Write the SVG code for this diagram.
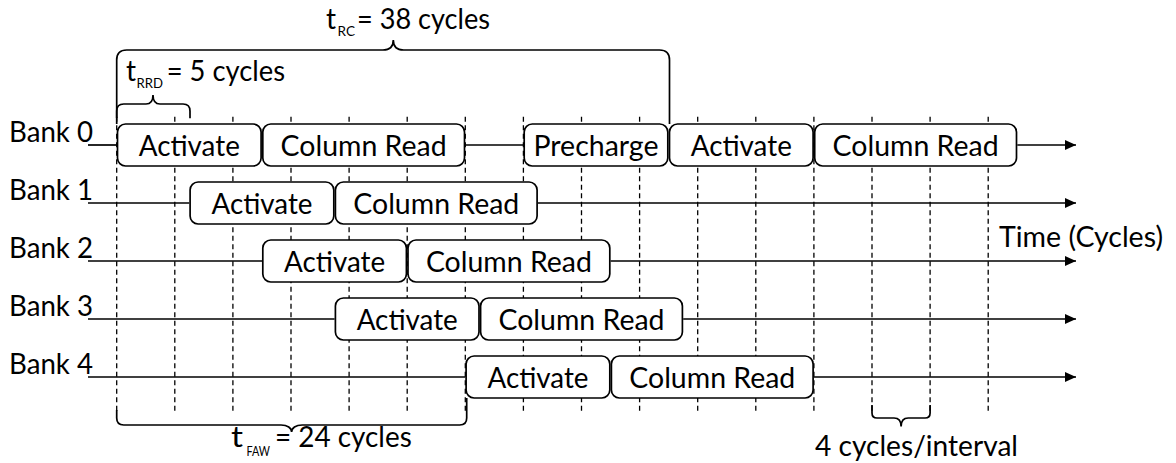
<svg xmlns="http://www.w3.org/2000/svg" width="1176" height="463" viewBox="0 0 1176 463">
  <defs>
    <style>
      .txt { font-family: Lato, "Liberation Sans", sans-serif; font-size: 28px; fill: #000; }
      .sub { font-family: Lato, "Liberation Sans", sans-serif; font-size: 13px; fill: #000; }
      .box rect { fill: #fff; stroke: #000; stroke-width: 1.7; }
      .box text { font-family: Lato, "Liberation Sans", sans-serif; font-size: 28px; fill: #000; text-anchor: middle; }
      .grid line { stroke: #000; stroke-width: 1.3; stroke-dasharray: 5 3.5; }
      .wire { stroke: #000; stroke-width: 1.7; fill: none; }
      .brace { stroke: #000; stroke-width: 1.7; fill: none; }
    </style>
    <marker id="arrow" markerUnits="userSpaceOnUse" markerWidth="12" markerHeight="11" refX="11" refY="5" orient="auto">
      <path d="M0,0 L11,5 L0,10 Z" fill="#000"/>
    </marker>
  </defs>

  <!-- cycle grid: one dashed line every 4 cycles -->
  <g class="grid" id="grid">
    <line x1="116.7" y1="116.7" x2="116.7" y2="411"/>
    <line x1="174.8" y1="116.7" x2="174.8" y2="411"/>
    <line x1="232.9" y1="116.7" x2="232.9" y2="411"/>
    <line x1="291.0" y1="116.7" x2="291.0" y2="411"/>
    <line x1="349.1" y1="116.7" x2="349.1" y2="411"/>
    <line x1="407.2" y1="116.7" x2="407.2" y2="411"/>
    <line x1="465.3" y1="116.7" x2="465.3" y2="411"/>
    <line x1="523.4" y1="116.7" x2="523.4" y2="411"/>
    <line x1="581.5" y1="116.7" x2="581.5" y2="411"/>
    <line x1="639.6" y1="116.7" x2="639.6" y2="411"/>
    <line x1="697.7" y1="116.7" x2="697.7" y2="411"/>
    <line x1="755.8" y1="116.7" x2="755.8" y2="411"/>
    <line x1="813.9" y1="116.7" x2="813.9" y2="411"/>
    <line x1="872.0" y1="116.7" x2="872.0" y2="411"/>
    <line x1="930.1" y1="116.7" x2="930.1" y2="411"/>
    <line x1="988.2" y1="116.7" x2="988.2" y2="411"/>
  </g>

  <!-- bank timelines -->
  <g id="connectors">
    <line class="wire" x1="88" y1="145" x2="116.7" y2="145"/>
    <line class="wire" x1="465.3" y1="145" x2="523.4" y2="145"/>
    <line class="wire" x1="1017.3" y1="145" x2="1076" y2="145" marker-end="url(#arrow)"/>
    <line class="wire" x1="88" y1="203" x2="189.3" y2="203"/>
    <line class="wire" x1="537.9" y1="203" x2="1076" y2="203" marker-end="url(#arrow)"/>
    <line class="wire" x1="88" y1="261" x2="262" y2="261"/>
    <line class="wire" x1="610.6" y1="261" x2="1076" y2="261" marker-end="url(#arrow)"/>
    <line class="wire" x1="88" y1="319" x2="334.6" y2="319"/>
    <line class="wire" x1="683.2" y1="319" x2="1076" y2="319" marker-end="url(#arrow)"/>
    <line class="wire" x1="88" y1="377" x2="465.3" y2="377"/>
    <line class="wire" x1="813.9" y1="377" x2="1076" y2="377" marker-end="url(#arrow)"/>
  </g>

  <!-- bank labels -->
  <g id="labels">
    <text class="txt" x="9" y="142" textLength="84" lengthAdjust="spacingAndGlyphs">Bank 0</text>
    <text class="txt" x="9" y="200" textLength="84" lengthAdjust="spacingAndGlyphs">Bank 1</text>
    <text class="txt" x="9" y="258" textLength="84" lengthAdjust="spacingAndGlyphs">Bank 2</text>
    <text class="txt" x="9" y="316" textLength="84" lengthAdjust="spacingAndGlyphs">Bank 3</text>
    <text class="txt" x="9" y="374" textLength="84" lengthAdjust="spacingAndGlyphs">Bank 4</text>
    <text class="txt" x="999" y="247" textLength="164" lengthAdjust="spacingAndGlyphs">Time (Cycles)</text>
  </g>

  <!-- Bank 0 commands -->
  <g id="bank0" class="box">
    <rect x="117.5" y="124" width="143.6" height="42" rx="8"/>
    <text x="189.3" y="155.5" textLength="101" lengthAdjust="spacingAndGlyphs">Activate</text>
    <rect x="262.8" y="124" width="201.7" height="42" rx="8"/>
    <text x="363.6" y="155.5" textLength="166" lengthAdjust="spacingAndGlyphs">Column Read</text>
    <rect x="524.2" y="124" width="143.6" height="42" rx="8"/>
    <text x="596" y="155.5" textLength="125" lengthAdjust="spacingAndGlyphs">Precharge</text>
    <rect x="669.5" y="124" width="143.6" height="42" rx="8"/>
    <text x="741.3" y="155.5" textLength="101" lengthAdjust="spacingAndGlyphs">Activate</text>
    <rect x="814.7" y="124" width="201.8" height="42" rx="8"/>
    <text x="915.6" y="155.5" textLength="166" lengthAdjust="spacingAndGlyphs">Column Read</text>
  </g>

  <!-- Bank 1 commands -->
  <g id="bank1" class="box">
    <rect x="190.1" y="182" width="143.7" height="42" rx="8"/>
    <text x="262" y="213.5" textLength="101" lengthAdjust="spacingAndGlyphs">Activate</text>
    <rect x="335.4" y="182" width="201.7" height="42" rx="8"/>
    <text x="436.3" y="213.5" textLength="166" lengthAdjust="spacingAndGlyphs">Column Read</text>
  </g>

  <!-- Bank 2 commands -->
  <g id="bank2" class="box">
    <rect x="262.8" y="240" width="143.6" height="42" rx="8"/>
    <text x="334.6" y="271.5" textLength="101" lengthAdjust="spacingAndGlyphs">Activate</text>
    <rect x="408" y="240" width="201.8" height="42" rx="8"/>
    <text x="508.9" y="271.5" textLength="166" lengthAdjust="spacingAndGlyphs">Column Read</text>
  </g>

  <!-- Bank 3 commands -->
  <g id="bank3" class="box">
    <rect x="335.4" y="298" width="143.6" height="42" rx="8"/>
    <text x="407.2" y="329.5" textLength="101" lengthAdjust="spacingAndGlyphs">Activate</text>
    <rect x="480.6" y="298" width="201.8" height="42" rx="8"/>
    <text x="581.5" y="329.5" textLength="166" lengthAdjust="spacingAndGlyphs">Column Read</text>
  </g>

  <!-- Bank 4 commands -->
  <g id="bank4" class="box">
    <rect x="466.1" y="356" width="143.7" height="42" rx="8"/>
    <text x="538" y="387.5" textLength="101" lengthAdjust="spacingAndGlyphs">Activate</text>
    <rect x="611.4" y="356" width="201.7" height="42" rx="8"/>
    <text x="712.3" y="387.5" textLength="166" lengthAdjust="spacingAndGlyphs">Column Read</text>
  </g>

  <!-- tRC bracket -->
  <g id="trc">
    <path class="brace" d="M116.7,124 V60 Q116.7,50 126.7,50 H383 C389.5,50 393.3,47 393.3,40 C393.3,47 397.1,50 403.6,50 H659.5 Q669.5,50 669.5,60 V124"/>
    <text class="txt" x="326" y="29">t</text>
    <text class="sub" x="337.5" y="35.5" textLength="17.5" lengthAdjust="spacingAndGlyphs">RC</text>
    <text class="txt" x="357" y="29" textLength="133" lengthAdjust="spacingAndGlyphs">= 38 cycles</text>
  </g>

  <!-- tRRD bracket -->
  <g id="trrd">
    <path class="brace" d="M116.7,118 V111 Q116.7,104 123.7,104 H146 C150.5,104 153,101.5 153,95 C153,101.5 155.5,104 160,104 H183 Q190,104 190,111 V118.3"/>
    <text class="txt" x="126" y="81">t</text>
    <text class="sub" x="136.5" y="87.5" textLength="26.5" lengthAdjust="spacingAndGlyphs">RRD</text>
    <text class="txt" x="166.7" y="81" textLength="118.3" lengthAdjust="spacingAndGlyphs">= 5 cycles</text>
  </g>

  <!-- tFAW bracket -->
  <g id="tfaw">
    <path class="brace" d="M116.7,410 V418 Q116.7,425 123.7,425 H281 C287.5,425 291.6,428 291.6,432 C291.6,428 295.7,425 302.2,425 H459.7 Q466.7,425 466.7,418 V398"/>
    <text class="txt" x="231" y="447" textLength="12" lengthAdjust="spacingAndGlyphs">t</text>
    <text class="sub" x="246.5" y="455.5" textLength="23.5" lengthAdjust="spacingAndGlyphs">FAW</text>
    <text class="txt" x="275" y="447" textLength="136.7" lengthAdjust="spacingAndGlyphs">= 24 cycles</text>
  </g>

  <!-- interval bracket -->
  <g id="interval">
    <path class="brace" d="M872,405 V413 Q872,418 877,418 H894 C899,418 901.1,421 901.1,426.5 C901.1,421 903.2,418 908.2,418 H925.1 Q930.1,418 930.1,413 V405"/>
    <text class="txt" x="815" y="455.5" textLength="203" lengthAdjust="spacingAndGlyphs">4 cycles/interval</text>
  </g>
</svg>
